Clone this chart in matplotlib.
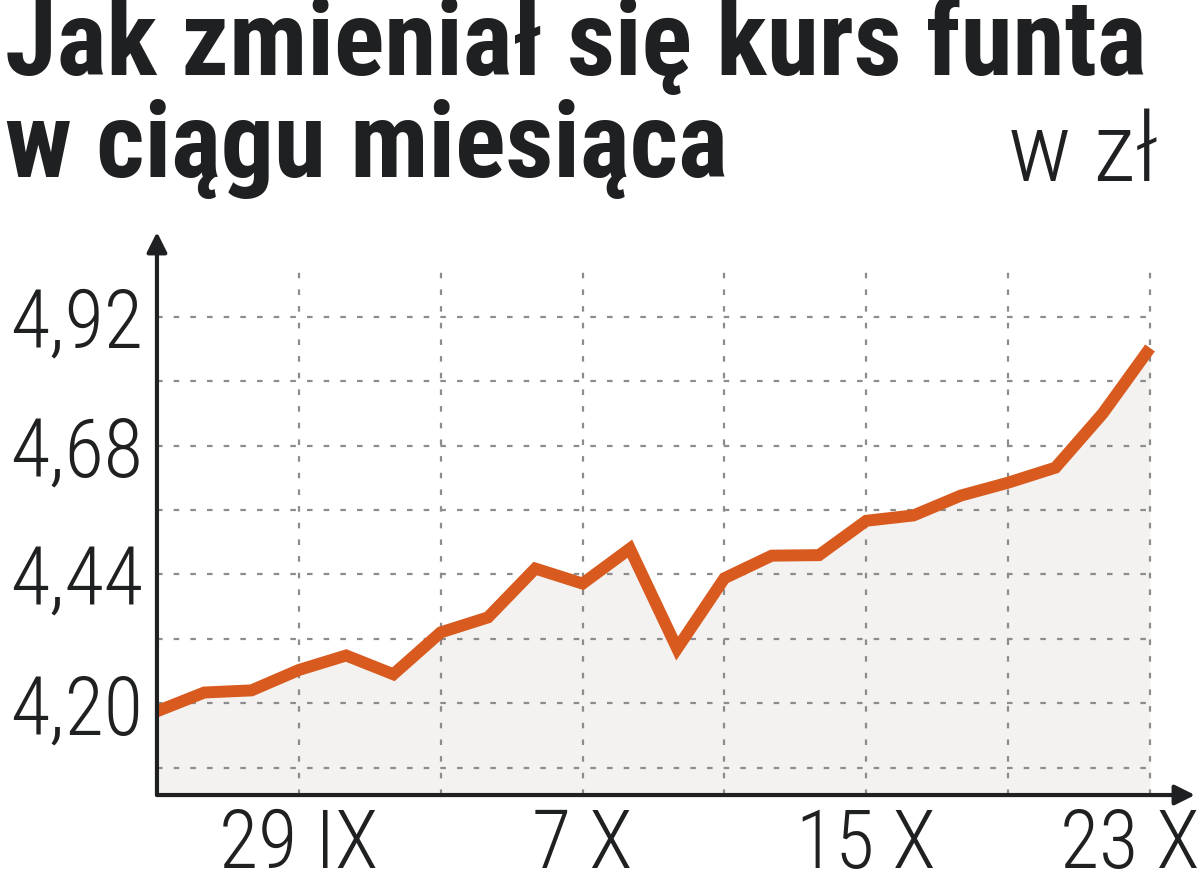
"""Kurs funta w zlotych - wykres liniowy w stylu gazetowym."""

import matplotlib.pyplot as plt
import matplotlib.transforms as mtransforms
import numpy as np

plt.rcParams["font.family"] = ["Roboto Condensed", "DejaVu Sans Condensed",
                               "Roboto", "DejaVu Sans"]

# kolejne sesje od 24 IX do 23 X
sessions = list(range(22))
rate = [4.185, 4.220, 4.224, 4.262, 4.289, 4.254, 4.332, 4.360, 4.451, 4.423,
        4.488, 4.302, 4.433, 4.475, 4.476, 4.540, 4.550, 4.587, 4.611, 4.639,
        4.740, 4.862]
xtick_pos = [3, 9, 15, 21]
xtick_labels = ["29 IX", "7 X", "15 X", "23 X"]
xgrid_pos = [3, 6, 9, 12, 15, 18, 21]
ytick_vals = [4.20, 4.44, 4.68, 4.92]
ytick_labels = ["4,20", "4,44", "4,68", "4,92"]
ygrid_vals = [4.08, 4.20, 4.32, 4.44, 4.56, 4.68, 4.80, 4.92]

ORANGE = "#d95a1e"
INK = "#1f2021"
GRID = "#8c8c8c"
FILL = "#f3f2f1"

fig = plt.figure(figsize=(12, 8.88), dpi=100)
ax = fig.add_axes([0.1308, 0.1047, 0.865, 0.634])
y0, y1 = 4.029, 5.078
ax.set_xlim(0, 21.95)
ax.set_ylim(y0, y1)

ax.fill_between(sessions, rate, y0, color=FILL, lw=0, zorder=1)

ax.hlines(ygrid_vals, 0, 21, colors=GRID, lw=1.6, linestyles=(0, (2.5, 5)), zorder=2)
ax.vlines(xgrid_pos, y0, 5.018, colors=GRID, lw=1.6, linestyles=(0, (2.5, 5)), zorder=2)

ax.plot(sessions, rate, color=ORANGE, lw=8.6, solid_joinstyle="miter",
        solid_capstyle="butt", zorder=3)

# osie ze strzalkami
for s in ax.spines.values():
    s.set_visible(False)
ax.annotate("", xy=(1, 0), xytext=(0, 0), xycoords="axes fraction",
            arrowprops=dict(arrowstyle="-|>", color=INK, lw=3, mutation_scale=30,
                            shrinkA=0, shrinkB=0), zorder=4)
ax.annotate("", xy=(0, 1), xytext=(0, 0), xycoords="axes fraction",
            arrowprops=dict(arrowstyle="-|>", color=INK, lw=3, mutation_scale=30,
                            shrinkA=0, shrinkB=0), zorder=4)

ax.set_xticks(xtick_pos)
ax.set_xticklabels(xtick_labels)
ax.set_yticks(ytick_vals)
ax.set_yticklabels(ytick_labels)
ax.tick_params(axis="y", length=0, labelsize=58, colors=INK, pad=10)
ax.tick_params(axis="x", length=0, labelsize=58, colors=INK, pad=8)
for lab in ax.get_xticklabels() + ax.get_yticklabels():
    lab.set_fontweight("light")

# ostatni podpis przesuniety w lewo, zeby zmiescil sie w kadrze
last = ax.get_xticklabels()[-1]
last.set_transform(last.get_transform() +
                   mtransforms.ScaledTranslation(-0.2, 0, fig.dpi_scale_trans))

fig.text(0.004, 0.9155, "Jak zmieniał się kurs funta", fontsize=76,
         fontweight="black", color=INK, va="baseline", ha="left")
fig.text(0.004, 0.8007, "w ciągu miesiąca", fontsize=76,
         fontweight="black", color=INK, va="baseline", ha="left")
fig.text(0.965, 0.796, "w zł", fontsize=70, fontweight="light", color=INK,
         ha="right", va="baseline")

fig.savefig("out.png", dpi=100, facecolor="white")
